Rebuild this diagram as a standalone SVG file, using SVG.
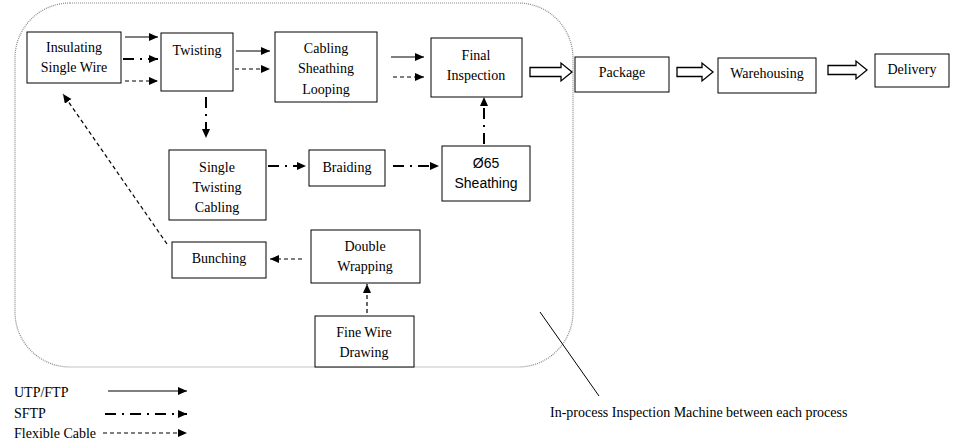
<svg xmlns="http://www.w3.org/2000/svg" width="953" height="447" viewBox="0 0 953 447">
<style>
.box{fill:#fff;stroke:#000;stroke-width:1}
.t{font-family:"Liberation Serif","Times New Roman",serif;font-size:14px;fill:#000;text-anchor:middle}
.ts{font-family:"Liberation Sans",Arial,sans-serif;font-size:14px;fill:#000;text-anchor:middle}
.tl{font-family:"Liberation Serif","Times New Roman",serif;font-size:14px;fill:#000}
.solid{stroke:#000;stroke-width:1.2;fill:none}
.dd{stroke:#000;stroke-width:2;fill:none;stroke-dasharray:11 6 2 6}
.dash{stroke:#000;stroke-width:1.2;fill:none;stroke-dasharray:4 3}
.hollow{fill:#fff;stroke:#000;stroke-width:1.3}
</style>
<defs>
<marker id="ah" markerUnits="userSpaceOnUse" markerWidth="10" markerHeight="10" refX="9" refY="4" orient="auto">
<path d="M0,0 L9,4 L0,8 Z" fill="#000"/>
</marker>
</defs>
<rect id="boundary" x="15" y="3" width="558" height="364" rx="55" ry="55" fill="none" stroke="#888" stroke-width="1.2" stroke-dasharray="1 1"/>
<g id="connectors">
<line class="solid" x1="125" y1="37" x2="158" y2="37" marker-end="url(#ah)"/>
<line class="dd" x1="123" y1="59" x2="158" y2="59" marker-end="url(#ah)"/>
<line class="dash" x1="125" y1="81" x2="158" y2="81" marker-end="url(#ah)"/>
<line class="solid" x1="236" y1="51" x2="270" y2="51" marker-end="url(#ah)"/>
<line class="dash" x1="235" y1="69" x2="270" y2="69" marker-end="url(#ah)"/>
<line class="dd" x1="206" y1="97" x2="206" y2="138" marker-end="url(#ah)"/>
<line class="solid" x1="391" y1="57" x2="424" y2="57" marker-end="url(#ah)"/>
<line class="dash" x1="393" y1="77" x2="424" y2="77" marker-end="url(#ah)"/>
<line class="dd" x1="268" y1="166" x2="306" y2="166" marker-end="url(#ah)"/>
<line class="dd" x1="393" y1="166" x2="439" y2="166" marker-end="url(#ah)"/>
<line class="dd" x1="484" y1="144" x2="484" y2="97" marker-end="url(#ah)"/>
<line class="dash" x1="302" y1="259" x2="270" y2="259" marker-end="url(#ah)"/>
<line class="dash" x1="367" y1="313" x2="367" y2="284" marker-end="url(#ah)"/>
<line class="dash" x1="167" y1="244" x2="63" y2="94" marker-end="url(#ah)"/>
<path class="hollow" d="M530,67.5 L561,67.5 L561,63 L572,72 L561,81 L561,76.5 L530,76.5 Z"/>
<path class="hollow" d="M677,67.5 L702,67.5 L702,63 L713,72 L702,81 L702,76.5 L677,76.5 Z"/>
<path class="hollow" d="M828,65.5 L856,65.5 L856,61 L867,70 L856,79 L856,74.5 L828,74.5 Z"/>
<line x1="540" y1="312" x2="599" y2="396" stroke="#000" stroke-width="1"/>
</g>
<g id="n_insulating"><rect class="box" x="27" y="32" width="94" height="51"/><text class="t" x="74" y="52">Insulating</text><text class="t" x="74" y="72">Single Wire</text></g>
<g id="n_twisting"><rect class="box" x="161" y="33" width="72" height="58"/><text class="t" x="197" y="55">Twisting</text></g>
<g id="n_cabling"><rect class="box" x="275" y="32" width="102" height="70"/><text class="t" x="326" y="53">Cabling</text><text class="t" x="326" y="73">Sheathing</text><text class="t" x="326" y="94">Looping</text></g>
<g id="n_final"><rect class="box" x="431" y="38" width="91" height="59"/><text class="t" x="476" y="60">Final</text><text class="t" x="476" y="80">Inspection</text></g>
<g id="n_package"><rect class="box" x="575" y="57" width="94" height="35"/><text class="t" x="622" y="77">Package</text></g>
<g id="n_warehousing"><rect class="box" x="718" y="58" width="98" height="35"/><text class="t" x="767" y="78">Warehousing</text></g>
<g id="n_delivery"><rect class="box" x="875" y="54" width="74" height="33"/><text class="t" x="912" y="74">Delivery</text></g>
<g id="n_single"><rect class="box" x="169" y="150" width="97" height="70"/><text class="t" x="217" y="172">Single</text><text class="t" x="217" y="192">Twisting</text><text class="t" x="217" y="212">Cabling</text></g>
<g id="n_braiding"><rect class="box" x="309" y="150" width="76" height="36"/><text class="t" x="347" y="172">Braiding</text></g>
<g id="n_sheathing65"><rect class="box" x="442" y="146" width="88" height="55"/><text class="ts" x="486" y="168">Ø65</text><text class="ts" x="486" y="188">Sheathing</text></g>
<g id="n_bunching"><rect class="box" x="172" y="242" width="94" height="36"/><text class="t" x="219" y="263">Bunching</text></g>
<g id="n_double"><rect class="box" x="311" y="230" width="109" height="53"/><text class="t" x="365" y="251">Double</text><text class="t" x="365" y="271">Wrapping</text></g>
<g id="n_fine"><rect class="box" x="315" y="316" width="99" height="51"/><text class="t" x="364" y="337">Fine Wire</text><text class="t" x="364" y="357">Drawing</text></g>
<g id="legend">
<text class="tl" x="14" y="397">UTP/FTP</text>
<line class="solid" x1="108" y1="391" x2="187" y2="391" marker-end="url(#ah)"/>
<text class="tl" x="14" y="418">SFTP</text>
<line class="dd" x1="105" y1="414" x2="187" y2="414" marker-end="url(#ah)"/>
<text class="tl" x="14" y="438">Flexible Cable</text>
<line class="dash" x1="103" y1="433" x2="187" y2="433" marker-end="url(#ah)"/>
</g>
<text class="tl" x="550" y="417">In-process Inspection Machine between each process</text>
</svg>
